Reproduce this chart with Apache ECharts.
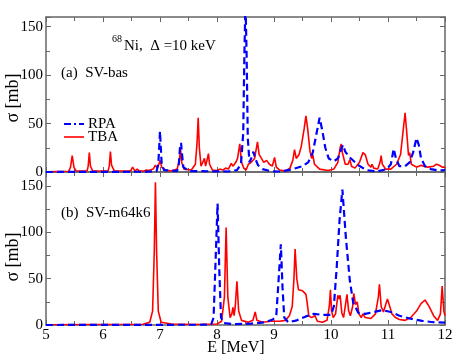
<!DOCTYPE html>
<html>
<head>
<meta charset="utf-8">
<script src="https://cdn.jsdelivr.net/npm/echarts@6/dist/echarts.min.js"></script>
<style>
  html, body { margin: 0; padding: 0; background: #fff; }
  #chart { width: 463px; height: 358px; }
</style>
</head>
<body>
<div id="chart"></div>
<script>
// E [MeV], sigma [mb]
const rpaTop = [
  [5, 0], [6.8, 0.3], [6.94, 1], [6.97, 8], [6.99, 30], [7.0, 42], [7.01, 30], [7.03, 8], [7.07, 2],
  [7.3, 1], [7.33, 8], [7.35, 25], [7.37, 30], [7.38, 22], [7.41, 5], [7.5, 1], [8.2, 0.5],
  [8.35, 2], [8.42, 8], [8.46, 40], [8.48, 120], [8.5, 175], [8.52, 120], [8.54, 35], [8.57, 10],
  [8.6, 14], [8.64, 21], [8.67, 14], [8.72, 7], [8.8, 3], [8.95, 0.8], [9.1, 0.5], [9.3, 2.5],
  [9.5, 6], [9.6, 10], [9.68, 20], [9.74, 38], [9.8, 56], [9.85, 42], [9.9, 25], [9.96, 14],
  [10.05, 11], [10.12, 14], [10.17, 22], [10.21, 28], [10.25, 21], [10.33, 15], [10.48, 7],
  [10.62, 2], [10.8, 0.5], [10.98, 3], [11.05, 8], [11.1, 24], [11.14, 14], [11.2, 6], [11.3, 6],
  [11.38, 10], [11.44, 20], [11.5, 35], [11.54, 28], [11.58, 14], [11.65, 6], [11.75, 3],
  [11.9, 1.5], [12, 2]
];
const tbaTop = [
  [5, 0.3], [5.4, 0.8], [5.43, 5], [5.46, 17], [5.49, 5], [5.53, 1], [5.72, 1], [5.74, 6], [5.76, 20],
  [5.78, 6], [5.82, 1], [6.09, 1], [6.11, 6], [6.13, 21], [6.15, 7], [6.2, 1], [6.48, 1], [6.52, 5],
  [6.56, 1], [6.6, 3], [6.64, 1], [6.72, 1], [6.76, 2], [6.8, 1.5], [6.88, 3], [6.92, 7], [6.95, 4],
  [6.98, 8], [7.0, 12], [7.03, 5], [7.1, 2], [7.2, 1], [7.3, 3], [7.34, 12], [7.36, 24], [7.38, 10],
  [7.42, 3], [7.55, 2], [7.62, 8], [7.65, 30], [7.67, 56], [7.69, 25], [7.72, 6], [7.75, 10],
  [7.78, 14], [7.8, 6], [7.82, 11], [7.85, 19], [7.87, 8], [7.92, 2], [8.0, 1.5], [8.05, 3],
  [8.1, 2], [8.15, 4], [8.2, 3], [8.25, 9], [8.28, 6], [8.33, 10], [8.36, 14], [8.4, 29], [8.43, 10],
  [8.47, 4], [8.51, 2], [8.55, 8], [8.6, 10], [8.66, 14], [8.71, 31], [8.74, 18], [8.78, 14],
  [8.82, 10], [8.87, 12], [8.92, 8], [8.97, 6], [9.01, 15], [9.04, 5], [9.07, 5], [9.1, 2],
  [9.2, 1], [9.28, 4], [9.33, 12], [9.36, 23], [9.39, 14], [9.44, 18], [9.48, 27], [9.5, 26],
  [9.53, 45], [9.56, 58], [9.59, 45], [9.63, 22], [9.66, 14], [9.68, 18], [9.71, 8], [9.8, 3],
  [9.95, 1.5], [10.05, 3], [10.12, 10], [10.16, 25], [10.18, 29], [10.2, 20], [10.25, 8],
  [10.3, 8], [10.33, 13], [10.36, 6], [10.42, 4], [10.5, 10], [10.56, 20], [10.6, 18], [10.65, 8],
  [10.7, 5], [10.72, 8], [10.75, 4], [10.82, 3], [10.86, 10], [10.88, 17], [10.9, 8], [10.96, 3],
  [11.05, 3], [11.15, 8], [11.22, 18], [11.27, 45], [11.3, 61], [11.33, 40], [11.36, 17],
  [11.38, 20], [11.41, 8], [11.5, 5], [11.58, 7], [11.62, 6], [11.7, 5], [11.8, 6], [11.85, 8],
  [11.88, 9], [11.9, 7], [11.95, 5], [12, 5]
];
const rpaBottom = [
  [5, 0], [7.8, 0.3], [7.9, 1], [7.94, 8], [7.97, 60], [8.01, 131], [8.04, 60], [8.07, 8],
  [8.12, 2], [8.3, 0.8], [8.6, 1.5], [8.85, 3], [8.98, 6], [9.04, 10], [9.08, 48], [9.12, 87],
  [9.15, 40], [9.18, 8], [9.25, 3], [9.4, 5], [9.55, 9], [9.7, 12], [9.85, 11], [10.0, 11],
  [10.05, 20], [10.1, 62], [10.15, 113], [10.2, 146], [10.26, 95], [10.33, 48], [10.39, 24],
  [10.48, 13], [10.6, 12], [10.75, 14], [10.9, 16], [11.05, 14], [11.2, 10], [11.38, 7],
  [11.6, 4.5], [11.8, 3], [12, 2.5]
];
const tbaBottom = [
  [5, 0.2], [6.7, 0.8], [6.82, 3], [6.87, 15], [6.9, 80], [6.92, 154], [6.94, 80], [6.97, 15],
  [7.02, 3], [7.2, 1], [7.6, 0.5], [8.0, 1], [8.08, 4], [8.13, 30], [8.16, 105], [8.19, 30],
  [8.23, 8], [8.26, 12], [8.28, 19], [8.3, 10], [8.32, 20], [8.35, 47], [8.38, 15], [8.43, 5],
  [8.55, 3], [8.63, 5], [8.67, 14], [8.7, 5], [8.8, 3], [8.95, 4], [8.98, 6], [9.02, 4], [9.1, 4],
  [9.2, 5], [9.27, 10], [9.32, 20], [9.35, 50], [9.37, 82], [9.4, 50], [9.43, 38], [9.5, 37],
  [9.56, 33], [9.58, 25], [9.61, 10], [9.66, 8], [9.72, 10], [9.76, 4], [9.85, 3], [9.93, 5],
  [9.97, 20], [9.99, 38], [10.01, 15], [10.04, 8], [10.08, 12], [10.12, 32], [10.14, 28],
  [10.16, 32], [10.19, 13], [10.22, 8], [10.25, 20], [10.28, 33], [10.31, 15], [10.34, 10],
  [10.38, 20], [10.4, 34], [10.43, 22], [10.46, 25], [10.49, 12], [10.53, 8], [10.56, 12],
  [10.6, 8], [10.7, 7], [10.78, 12], [10.83, 30], [10.85, 44], [10.88, 20], [10.92, 14],
  [10.96, 22], [10.99, 28], [11.02, 22], [11.07, 12], [11.13, 8], [11.2, 6], [11.3, 5], [11.4, 8],
  [11.5, 15], [11.58, 23], [11.65, 27], [11.72, 20], [11.8, 10], [11.87, 5], [11.92, 12],
  [11.95, 42], [11.98, 15], [12, 10]
];
const xTicks = { min: 5, max: 12, interval: 1 };
const yTopMax = 160;
const yBottomMax = 165;

const frame = '#666';
const serif = '"Liberation Serif", "DejaVu Serif", serif';

const xAxisBase = (gridIndex, position, showLabel) => ({
  type: 'value',
  gridIndex,
  position,
  min: xTicks.min,
  max: xTicks.max,
  interval: xTicks.interval,
  axisLine: { onZero: false, lineStyle: { color: frame, width: 1.5 } },
  axisTick: { inside: true, length: 5, lineStyle: { color: frame } },
  minorTick: { show: true, splitNumber: 2, length: 4, lineStyle: { color: frame } },
  splitLine: { show: false },
  axisLabel: { show: showLabel, color: '#000', fontFamily: serif, fontSize: 15, margin: 3 },
});

const yAxisBase = (gridIndex, position, max, showLabel) => ({
  type: 'value',
  gridIndex,
  position,
  min: 0,
  max,
  interval: 50,
  axisLine: { show: true, onZero: false, lineStyle: { color: frame, width: 1.5 } },
  axisTick: { show: true, inside: true, length: 5, lineStyle: { color: frame } },
  minorTick: { show: true, splitNumber: 2, length: 4, lineStyle: { color: frame } },
  splitLine: { show: false },
  axisLabel: { show: showLabel, showMaxLabel: false, color: '#000', fontFamily: serif, fontSize: 15, margin: 3 },
});

const rpaStyle = { color: '#0000ff', width: 2.2, type: [7, 4] };
const tbaStyle = { color: '#ff0000', width: 1.6 };

const chart = echarts.init(document.getElementById('chart'));
chart.setOption({
  animation: false,
  grid: [
    { left: 46, top: 17, width: 399, height: 155 },
    { left: 46, top: 172, width: 399, height: 153 },
  ],
  xAxis: [
    xAxisBase(0, 'bottom', false),
    xAxisBase(0, 'top', false),
    xAxisBase(1, 'bottom', true),
    xAxisBase(1, 'top', false),
  ],
  yAxis: [
    yAxisBase(0, 'left', yTopMax, true),
    yAxisBase(0, 'right', yTopMax, false),
    yAxisBase(1, 'left', yBottomMax, true),
    yAxisBase(1, 'right', yBottomMax, false),
  ],
  series: [
    { name: 'RPA', type: 'line', xAxisIndex: 0, yAxisIndex: 0, data: rpaTop, showSymbol: false, lineStyle: rpaStyle, z: 3 },
    { name: 'TBA', type: 'line', xAxisIndex: 0, yAxisIndex: 0, data: tbaTop, showSymbol: false, lineStyle: tbaStyle, z: 2 },
    { name: 'RPA', type: 'line', xAxisIndex: 2, yAxisIndex: 2, data: rpaBottom, showSymbol: false, lineStyle: rpaStyle, z: 3 },
    { name: 'TBA', type: 'line', xAxisIndex: 2, yAxisIndex: 2, data: tbaBottom, showSymbol: false, lineStyle: tbaStyle, z: 2 },
  ],
  graphic: [
    { type: 'text', x: 112, y: 39, style: { text: '68', font: '10px ' + serif, fill: '#000', verticalAlign: 'middle' } },
    { type: 'text', x: 124, y: 46, style: { text: 'Ni,  Δ =10 keV', font: '15px ' + serif, fill: '#000', verticalAlign: 'middle' } },
    { type: 'text', x: 61, y: 73, style: { text: '(a)  SV-bas', font: '15px ' + serif, fill: '#000', verticalAlign: 'middle' } },
    { type: 'text', x: 61, y: 213, style: { text: '(b)  SV-m64k6', font: '15px ' + serif, fill: '#000', verticalAlign: 'middle' } },
    { type: 'line', shape: { x1: 64, y1: 124, x2: 84, y2: 124 }, style: { stroke: '#0000ff', lineWidth: 2.2, lineDash: [7, 3, 2, 3] } },
    { type: 'text', x: 88, y: 124, style: { text: 'RPA', font: '15px ' + serif, fill: '#000', verticalAlign: 'middle' } },
    { type: 'line', shape: { x1: 64, y1: 137, x2: 84, y2: 137 }, style: { stroke: '#ff0000', lineWidth: 1.6 } },
    { type: 'text', x: 88, y: 137, style: { text: 'TBA', font: '15px ' + serif, fill: '#000', verticalAlign: 'middle' } },
    { type: 'text', x: 13, y: 98, rotation: Math.PI / 2, style: { text: 'σ [mb]', font: '18px ' + serif, fill: '#000', align: 'center', verticalAlign: 'middle' } },
    { type: 'text', x: 13, y: 257, rotation: Math.PI / 2, style: { text: 'σ [mb]', font: '18px ' + serif, fill: '#000', align: 'center', verticalAlign: 'middle' } },
    { type: 'text', x: 236, y: 348, style: { text: 'E [MeV]', font: '16px ' + serif, fill: '#000', align: 'center', verticalAlign: 'middle' } },
  ],
});
</script>
</body>
</html>
